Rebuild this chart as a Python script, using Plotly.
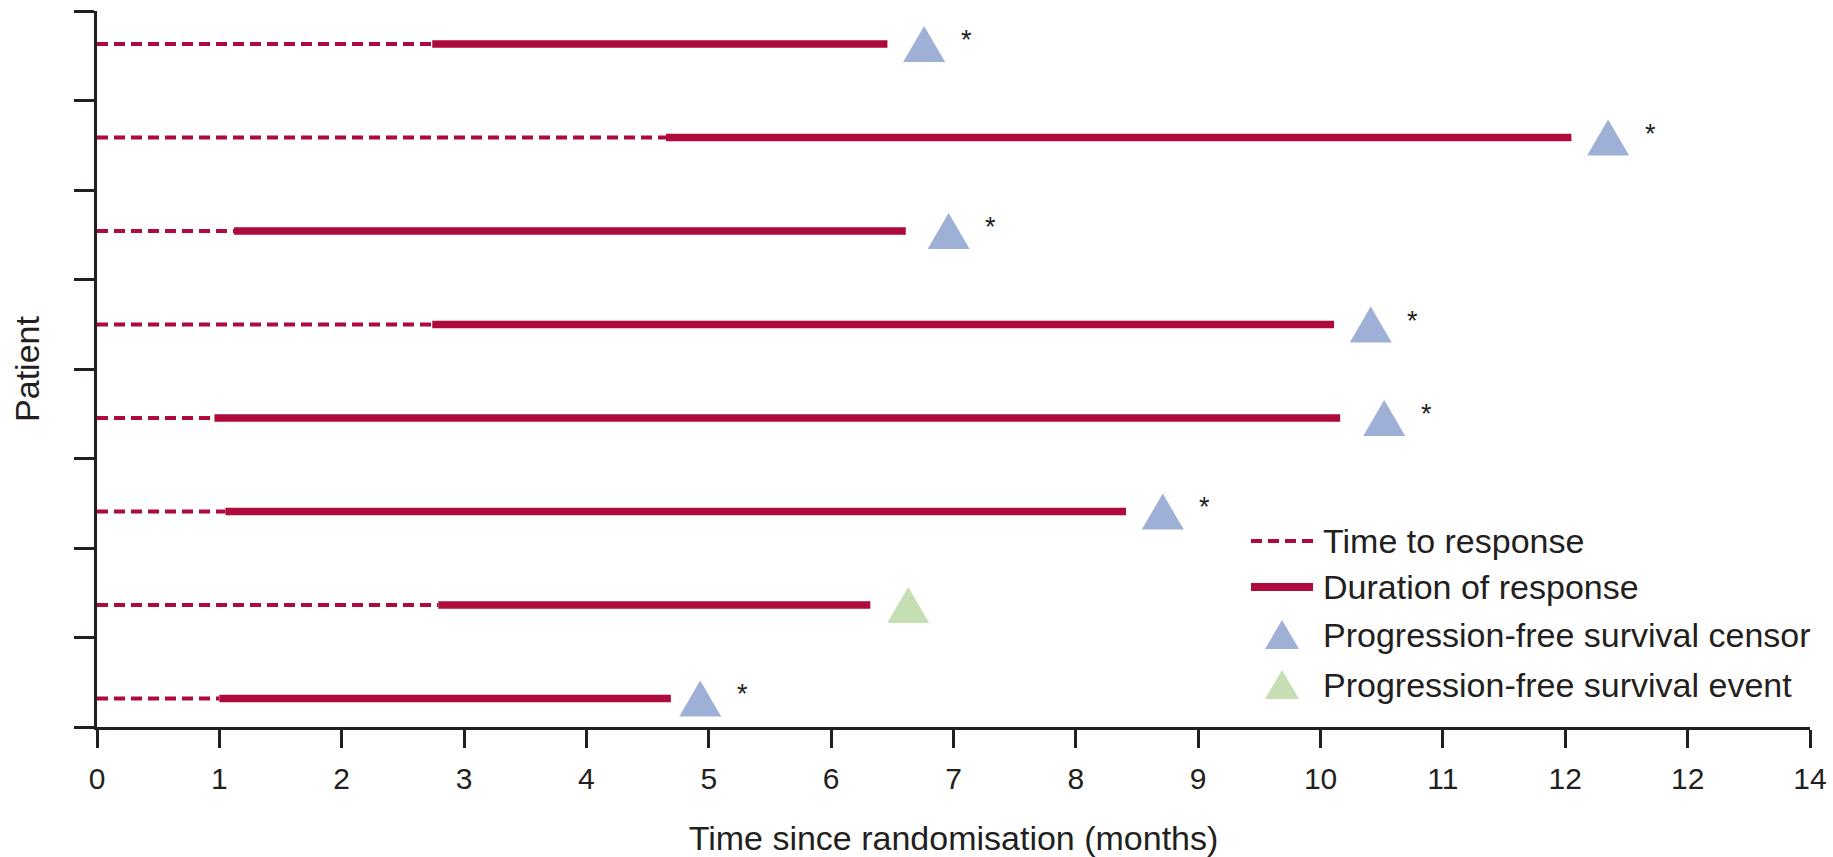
import plotly.graph_objects as go
import numpy as np

# ---------------- data ----------------
patients = ["P1", "P2", "P3", "P4", "P5", "P6", "P7", "P8"]          # top to bottom
time_to_response = [2.74, 4.65, 1.12, 2.74, 0.96, 1.05, 2.79, 1.00]   # months
response_end = [6.46, 12.05, 6.61, 10.11, 10.16, 8.41, 6.32, 4.69]    # months
pfs_time = [6.76, 12.35, 6.96, 10.41, 10.52, 8.71, 6.63, 4.93]         # months
pfs_status = ["censor", "censor", "censor", "censor", "censor", "censor", "event", "censor"]
asterisk = [True, True, True, True, True, True, False, True]

x_tick_vals = list(range(0, 15))
x_tick_text = ["0", "1", "2", "3", "4", "5", "6", "7", "8", "9", "10", "11", "12", "12", "14"]

legend_labels = ["Time to response", "Duration of response",
                 "Progression-free survival censor", "Progression-free survival event"]

# ---------------- style ----------------
RED = "#ae0a3b"
BLUE = "#9fb0d6"
GREEN = "#c6dfb2"
INK = "#231f20"
FONT = "Liberation Sans, Arial, sans-serif"

W, H = 1833, 857
L, R, T, B = 97, 23, 11, 130
PW, PH = W - L - R, H - T - B

n = len(patients)
ypos = [n - i for i in range(n)]
y_range = [0.695, 8.353]

# segments
dx, dy, sx, sy = [], [], [], []
for y, r, e in zip(ypos, time_to_response, response_end):
    dx += [0, r, None]; dy += [y, y, None]
    sx += [r, e, None]; sy += [y, y, None]

fig = go.Figure()
fig.add_trace(go.Scatter(x=dx, y=dy, mode="lines", name=legend_labels[0],
                         line=dict(color=RED, width=4, dash="11px,6px"),
                         showlegend=False, hoverinfo="skip"))
fig.add_trace(go.Scatter(x=sx, y=sy, mode="lines", name=legend_labels[1],
                         line=dict(color=RED, width=7.5),
                         showlegend=False, hoverinfo="skip"))

shapes = []
annotations = []
tri = "M-21,-18 L21,-18 L0,18 Z"
for y, p, st, a in zip(ypos, pfs_time, pfs_status, asterisk):
    shapes.append(dict(type="path", xref="x", yref="y", xsizemode="pixel", ysizemode="pixel",
                       xanchor=p, yanchor=y, path=tri,
                       fillcolor=BLUE if st == "censor" else GREEN, line=dict(width=0)))
    if a:
        annotations.append(dict(x=p, y=y, xref="x", yref="y", text="*", showarrow=False,
                                xshift=42, yshift=4, font=dict(size=27, color=INK, family=FONT)))

# ---------------- manual legend ----------------
def fx(px):
    return (px - L) / PW

def fy(py):
    return (H - B - py) / PH

leg_y = [541, 587, 635, 685]
shapes.append(dict(type="line", xref="paper", yref="paper", x0=fx(1251), x1=fx(1313),
                   y0=fy(leg_y[0]), y1=fy(leg_y[0]), line=dict(color=RED, width=4, dash="11px,6px")))
shapes.append(dict(type="line", xref="paper", yref="paper", x0=fx(1251), x1=fx(1313),
                   y0=fy(leg_y[1]), y1=fy(leg_y[1]), line=dict(color=RED, width=8)))
ltri = "M-17,-14 L17,-14 L0,15 Z"
for yy, col in [(leg_y[2], BLUE), (leg_y[3], GREEN)]:
    shapes.append(dict(type="path", xref="paper", yref="paper", xsizemode="pixel", ysizemode="pixel",
                       xanchor=fx(1282), yanchor=fy(yy), path=ltri, fillcolor=col, line=dict(width=0)))
for yy, lab in zip(leg_y, legend_labels):
    annotations.append(dict(x=fx(1321), y=fy(yy), xref="paper", yref="paper", text=lab,
                            showarrow=False, xanchor="left", yanchor="middle",
                            font=dict(size=34, color=INK, family=FONT)))

fig.update_layout(
    width=W, height=H,
    margin=dict(l=L, r=R, t=T, b=B),
    paper_bgcolor="white", plot_bgcolor="white",
    font=dict(family=FONT, color=INK),
    showlegend=False,
    shapes=shapes,
    annotations=annotations,
)
fig.update_xaxes(
    range=[0, 14], tickmode="array", tickvals=x_tick_vals, ticktext=x_tick_text,
    ticks="outside", ticklen=18, tickwidth=2.5, tickcolor=INK,
    showline=True, linewidth=2.5, linecolor=INK, showgrid=False, zeroline=False,
    tickfont=dict(size=30, color=INK, family=FONT), ticklabelstandoff=5,
    automargin=False,
    title=dict(text="Time since randomisation (months)", font=dict(size=34, color=INK, family=FONT),
               standoff=33),
)
fig.update_yaxes(
    range=y_range, tickmode="array", tickvals=list(np.linspace(y_range[0], y_range[1], 9)),
    showticklabels=False, ticks="outside", ticklen=20, tickwidth=2.5, tickcolor=INK,
    showline=True, linewidth=2.5, linecolor=INK, showgrid=False, zeroline=False,
    automargin=False,
    title=dict(text="Patient", font=dict(size=34, color=INK, family=FONT), standoff=25),
)

fig.write_html("out.html")
